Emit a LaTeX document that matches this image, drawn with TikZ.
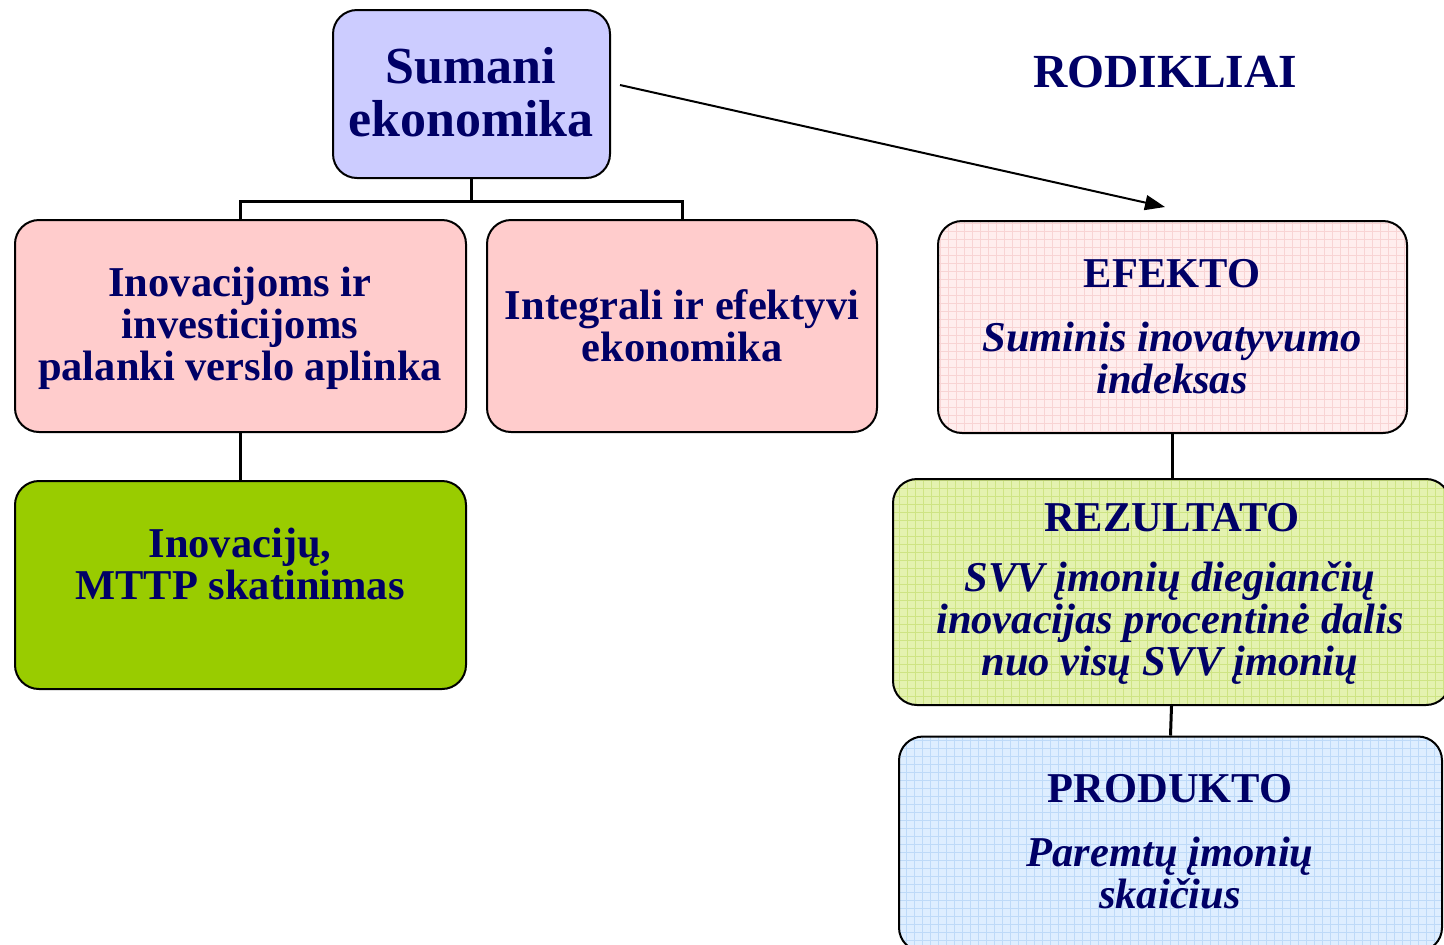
\documentclass[tikz,border=0pt]{standalone}
\usepackage{fontspec}
\setmainfont{Liberation Serif}
\usetikzlibrary{arrows.meta}
\definecolor{navy}{RGB}{0,0,102}
\definecolor{sumfill}{RGB}{204,204,255}
\definecolor{pinkfill}{RGB}{255,204,204}
\definecolor{greenfill}{RGB}{153,204,0}
\definecolor{effill}{RGB}{255,238,238}
\definecolor{efgrid}{RGB}{248,212,212}
\definecolor{rezfill}{RGB}{228,242,176}
\definecolor{rezgrid}{RGB}{206,228,132}
\definecolor{prodfill}{RGB}{222,238,255}
\definecolor{prodgrid}{RGB}{190,218,248}
\tikzset{
  box/.style={draw=black, line width=1pt, rounded corners=12pt, inner sep=0pt},
  gridbox/.style={box, fill=#1fill, path picture={
      \draw[#1grid, line width=0.3pt, step=4pt]
        (path picture bounding box.south west) grid (path picture bounding box.north east);}},
  txt/.style={text=navy, align=center, inner sep=0pt, font=\fontsize{21.25}{21}\selectfont\bfseries},
  itxt/.style={txt, font=\fontsize{21.25}{21}\selectfont\bfseries\itshape},
  conn/.style={draw=black, line width=1.5pt},
}
\begin{document}
\begin{tikzpicture}[x=0.5pt,y=-0.5pt]
\useasboundingbox (0,0) rectangle (1444,944);
% boxes
\node[box, fill=sumfill, minimum width=138.5pt, minimum height=84pt] (sum) at (471.5,94) {};
\node[box, fill=pinkfill, minimum width=225.5pt, minimum height=106pt] (inv) at (240.5,326) {};
\node[box, fill=pinkfill, minimum width=195pt, minimum height=106pt] (integ) at (682,326) {};
\node[box, fill=greenfill, minimum width=225.5pt, minimum height=104pt] (mttp) at (240.5,585) {};
\node[gridbox=ef, minimum width=234.5pt, minimum height=106pt] (ef) at (1172.5,327) {};
\node[gridbox=rez, minimum width=278.5pt, minimum height=113pt] (rez) at (1171.5,592) {};
\node[gridbox=prod, minimum width=271.5pt, minimum height=107.5pt] (prod) at (1170.5,844) {};
% texts
\node[txt, font=\fontsize{26}{26.5}\selectfont\bfseries] (sumt) at (471,92) {Sumani\\ekonomika};
\node[txt, font=\fontsize{23.75}{24}\selectfont\bfseries] (rod) at (1165,72) {RODIKLIAI};
\node[txt] (invt) at (240,328) {Inovacijoms ir\\investicijoms\\palanki verslo aplinka};
\node[txt] (integt) at (682,326) {Integrali ir efektyvi\\ekonomika};
\node[txt] (mttpt) at (240,564) {Inovacijų,\\MTTP skatinimas};
\node[txt] (eft) at (1172,274) {EFEKTO};
\node[itxt] (efb) at (1172,357.5) {Suminis inovatyvumo\\indeksas};
\node[txt] (rezt) at (1172,518) {REZULTATO};
\node[itxt] (rezb) at (1170,622.5) {SVV įmonių diegiančių\\inovacijas procentinė dalis\\nuo visų SVV įmonių};
\node[txt] (prodt) at (1170,789) {PRODUKTO};
\node[itxt] (prodb) at (1170,872.5) {Paremtų įmonių\\skaičius};
% connectors
\draw[conn] (sum.south) -- ++(0,22) -| (inv.north);
\draw[conn] (sum.south) ++(0,22) -| (integ.north);
\draw[conn] (inv.south) -- (mttp.north);
\draw[conn] (ef.south) -- (ef.south |- rez.north);
\draw[conn] (rez.south) -- (prod.north);
\coordinate (arrS) at (620,85);
\coordinate (arrE) at (1165,207);
\draw[line width=1pt, -{Triangle[length=10pt,width=7.5pt]}] (arrS) -- (arrE);
\end{tikzpicture}
\end{document}
